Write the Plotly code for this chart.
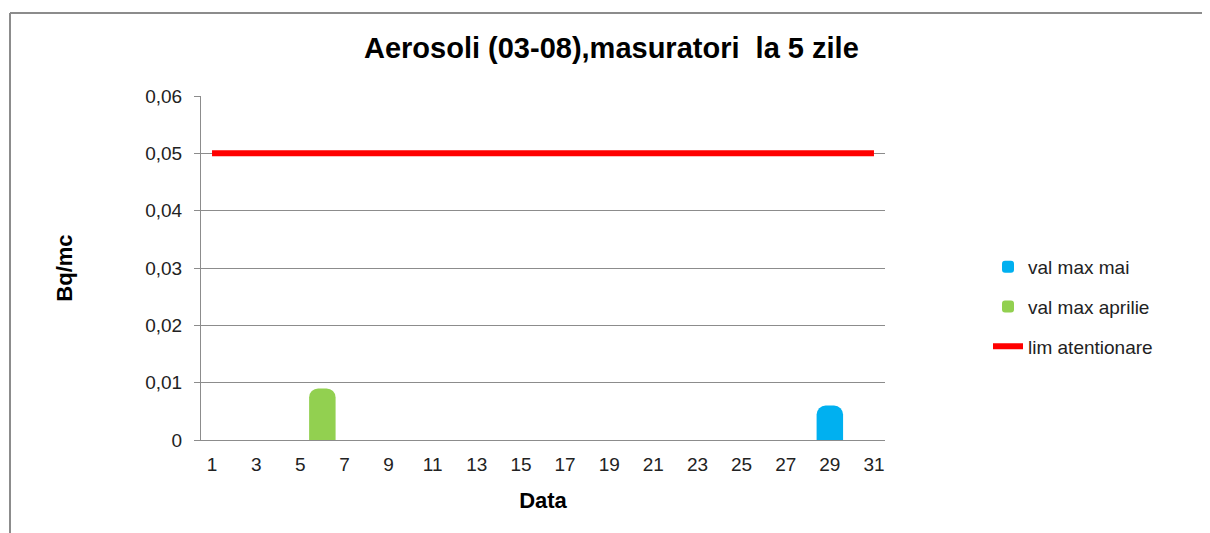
import plotly.graph_objects as go

days_mai = [29]
vals_mai = [0.006]
days_aprilie = [6]
vals_aprilie = [0.009]
days_lim = list(range(1, 32))
vals_lim = [0.05] * 31

x_ticks = list(range(1, 32, 2))
y_ticks = [0, 0.01, 0.02, 0.03, 0.04, 0.05, 0.06]
y_tick_text = ["0", "0,01", "0,02", "0,03", "0,04", "0,05", "0,06"]

FONT = "Liberation Sans, Arial, sans-serif"
W, H = 1202, 525
L, T, PW, PH = 193, 88, 684, 344


def px(xf):
    return (xf - L) / PW


def py(yf):
    return (T + PH - yf) / PH


fig = go.Figure()
fig.add_trace(go.Bar(x=days_mai, y=vals_mai, name="val max mai", legendgroup="a",
                     marker=dict(color="#00B0F0", cornerradius=9, line=dict(width=0)), width=1.2))
fig.add_trace(go.Bar(x=days_aprilie, y=vals_aprilie, name="val max aprilie", legendgroup="b",
                     marker=dict(color="#92D050", cornerradius=9, line=dict(width=0)), width=1.2))
fig.add_trace(go.Scatter(x=days_lim, y=vals_lim, name="lim atentionare", legendgroup="c",
                         mode="lines", line=dict(color="#FF0000", width=6)))

fig.update_layout(
    width=W, height=H,
    margin=dict(l=L, r=W - L - PW, t=T, b=H - T - PH),
    paper_bgcolor="white", plot_bgcolor="white",
    barmode="overlay",
    font=dict(family=FONT, size=19, color="#222"),
    title=dict(text="<b>Aerosoli (03-08),masuratori  la 5 zile</b>", x=0.502, xref="container",
               xanchor="center", y=1 - 40 / H, yanchor="middle", yref="container",
               font=dict(size=29, color="black", family=FONT)),
    legend=dict(x=px(980), y=py(240), xanchor="left", yanchor="top", traceorder="grouped",
                tracegroupgap=12, font=dict(size=19, color="#222"), bgcolor="rgba(0,0,0,0)"),
    showlegend=True,
    shapes=[
        dict(type="line", xref="paper", yref="paper", x0=px(2), x1=px(1210),
             y0=py(5), y1=py(5), line=dict(color="#8c8c8c", width=2)),
        dict(type="line", xref="paper", yref="paper", x0=px(2), x1=px(2),
             y0=py(5), y1=py(540), line=dict(color="#8c8c8c", width=2)),
    ],
)
fig.update_xaxes(range=[0.5, 31.5], tickvals=x_ticks, ticks="", showgrid=False,
                 showline=True, linecolor="#8c8c8c", linewidth=1, zeroline=False,
                 ticklabelstandoff=7,
                 tickfont=dict(size=19, color="#222"),
                 title=dict(text="<b>Data</b>", standoff=18, font=dict(size=22, color="black")))
fig.update_yaxes(range=[0, 0.06], tickvals=y_ticks, ticktext=y_tick_text, ticks="outside",
                 ticklen=6, tickcolor="#8c8c8c", showgrid=True, gridcolor="#8c8c8c", gridwidth=1,
                 showline=True, linecolor="#8c8c8c", linewidth=1, zeroline=False,
                 ticklabelstandoff=8,
                 tickfont=dict(size=19, color="#222"),
                 title=dict(text="<b>Bq/mc</b>", standoff=66, font=dict(size=22, color="black")))

fig.write_html("out.html")
